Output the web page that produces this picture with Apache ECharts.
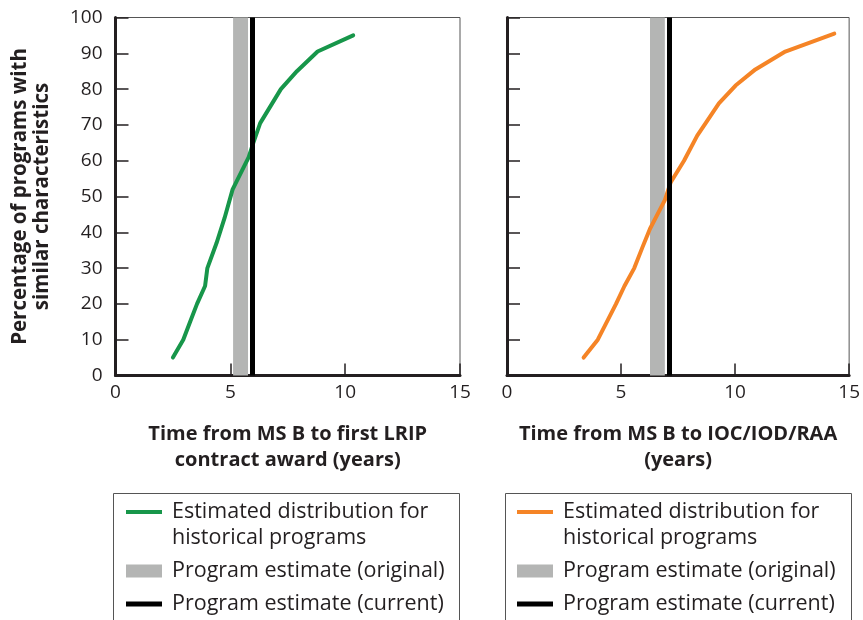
<!DOCTYPE html>
<html>
<head>
<meta charset="utf-8">
<script src="https://cdn.jsdelivr.net/npm/echarts@6/dist/echarts.min.js"></script>
<style>html,body{margin:0;padding:0;background:#fff}#c{width:863px;height:620px}</style>
</head>
<body>
<div id="c"></div>
<script>
// ---- data ----
const xTicks = [0, 5, 10, 15];
const yTicks = [0, 10, 20, 30, 40, 50, 60, 70, 80, 90, 100];
const leftX = [2.5, 2.95, 3.25, 3.55, 3.9, 4.0, 4.4, 4.75, 5.1, 5.8, 6.0, 6.3, 7.2, 7.9, 8.8, 10.35];
const leftY = [5, 10, 15, 20, 25, 30, 37, 44, 52, 61, 65, 70.5, 80, 85, 90.5, 95];
const rightX = [3.36, 3.98, 4.78, 5.15, 5.58, 5.95, 6.27, 6.92, 7.18, 7.76, 8.34, 8.71, 9.29, 10.02, 10.89, 12.2, 14.35];
const rightY = [5, 10, 20, 25, 30, 36, 41, 49, 54, 60, 67, 70.5, 76, 81, 85.5, 90.5, 95.5];
const leftOriginal = [5.12, 5.77];
const leftCurrent = 5.95;
const rightOriginal = [6.27, 6.92];
const rightCurrent = 7.1;
const leftXTitle = 'Time from MS B to first LRIP\ncontract award (years)';
const rightXTitle = 'Time from MS B to IOC/IOD/RAA\n(years)';
const yTitle = 'Percentage of programs with\nsimilar characteristics';
const nameDist = 'Estimated distribution for\nhistorical programs';
const nameOrig = 'Program estimate (original)';
const nameCur = 'Program estimate (current)';

const FONT = '"Open Sans", "Noto Sans", sans-serif';
const TXT = '#231f20';
const GREEN = '#17964a';
const ORANGE = '#f58426';
const GRAY = '#b4b5b4';

const chart = echarts.init(document.getElementById('c'));

function xAxis(idx, title) {
  return {
    type: 'value', gridIndex: idx, min: 0, max: 15, interval: 5,
    name: title, nameLocation: 'middle', nameGap: 46,
    nameTextStyle: {fontFamily: FONT, fontWeight: 'bold', fontSize: 20, lineHeight: 26, color: TXT},
    axisLine: {show: true, lineStyle: {color: TXT, width: 3}},
    axisTick: {show: true, inside: true, length: 12, lineStyle: {color: TXT, width: 1.5}},
    axisLabel: {margin: 8, fontFamily: FONT, fontSize: 19, color: TXT},
    splitLine: {show: false}
  };
}
function yAxis(idx, showLabels) {
  return {
    type: 'value', gridIndex: idx, min: 0, max: 100, interval: 10,
    name: showLabels ? yTitle : '', nameLocation: 'middle', nameGap: 62,
    nameTextStyle: {fontFamily: FONT, fontWeight: 'bold', fontSize: 20.5, lineHeight: 22, color: TXT},
    axisLine: {show: true, lineStyle: {color: TXT, width: 3}},
    axisTick: {show: true, inside: true, length: 13, lineStyle: {color: TXT, width: 1.5}},
    axisLabel: {show: showLabels, margin: 13, fontFamily: FONT, fontSize: 19, color: TXT},
    splitLine: {show: false}
  };
}
function pts(xs, ys) { return xs.map((x, i) => [x, ys[i]]); }
function bandSeries(idx, range, name) {
  return {
    type: 'line', name: name, xAxisIndex: idx, yAxisIndex: idx, data: [], z: 3,
    color: GRAY,
    markArea: {silent: true, itemStyle: {color: GRAY, opacity: 1}, label: {show: false},
      data: [[{xAxis: range[0]}, {xAxis: range[1]}]]}
  };
}
function curSeries(idx, x, name) {
  return {
    type: 'line', name: name, xAxisIndex: idx, yAxisIndex: idx, data: [], z: 4,
    color: '#000',
    markLine: {silent: true, symbol: ['none', 'none'], label: {show: false},
      lineStyle: {color: '#000', width: 5, type: 'solid'},
      data: [{xAxis: x}]}
  };
}
function legend(left, color) {
  return {
    left: left, top: 473, orient: 'vertical', padding: 0, itemGap: 7,
    itemWidth: 36, itemHeight: 13, symbolKeepAspect: true, selectedMode: false,
    formatter: function (name) { return name === nameDist ? ' \n' + name : name; },
    textStyle: {fontFamily: FONT, fontSize: 21.5, lineHeight: 26, color: TXT, padding: [0, 0, 0, 5]},
    data: [
      {name: nameDist, icon: 'path://M0,0h36v4h-36z', itemStyle: {color: color, borderWidth: 0}},
      {name: nameOrig, icon: 'rect', itemStyle: {color: GRAY, borderWidth: 0}},
      {name: nameCur, icon: 'path://M0,0h36v5h-36z', itemStyle: {color: '#000', borderWidth: 0}}
    ]
  };
}

chart.setOption({
  animation: false,
  backgroundColor: '#fff',
  grid: [
    {left: 115.5, top: 17.5, width: 344.5, height: 358, show: true, borderColor: '#555', borderWidth: 1},
    {left: 507, top: 17.5, width: 344, height: 358, show: true, borderColor: '#555', borderWidth: 1}
  ],
  xAxis: [xAxis(0, leftXTitle), xAxis(1, rightXTitle)],
  yAxis: [yAxis(0, true), yAxis(1, false)],
  legend: [legend(126, GREEN), legend(517, ORANGE)],
  graphic: [
    {type: 'rect', shape: {x: 113.5, y: 493.5, width: 346, height: 140}, style: {fill: 'none', stroke: '#555', lineWidth: 1}, silent: true},
    {type: 'rect', shape: {x: 505.5, y: 493.5, width: 346, height: 140}, style: {fill: 'none', stroke: '#555', lineWidth: 1}, silent: true}
  ],
  series: [
    {type: 'line', name: nameDist, xAxisIndex: 0, yAxisIndex: 0, data: pts(leftX, leftY), z: 2,
      symbol: 'none', smooth: false, color: GREEN, lineStyle: {color: GREEN, width: 4, cap: 'round', join: 'round'}},
    bandSeries(0, leftOriginal, nameOrig),
    curSeries(0, leftCurrent, nameCur),
    {type: 'line', name: nameDist, xAxisIndex: 1, yAxisIndex: 1, data: pts(rightX, rightY), z: 2,
      symbol: 'none', smooth: false, color: ORANGE, lineStyle: {color: ORANGE, width: 4, cap: 'round', join: 'round'}},
    bandSeries(1, rightOriginal, nameOrig),
    curSeries(1, rightCurrent, nameCur)
  ]
});
</script>
</body>
</html>
